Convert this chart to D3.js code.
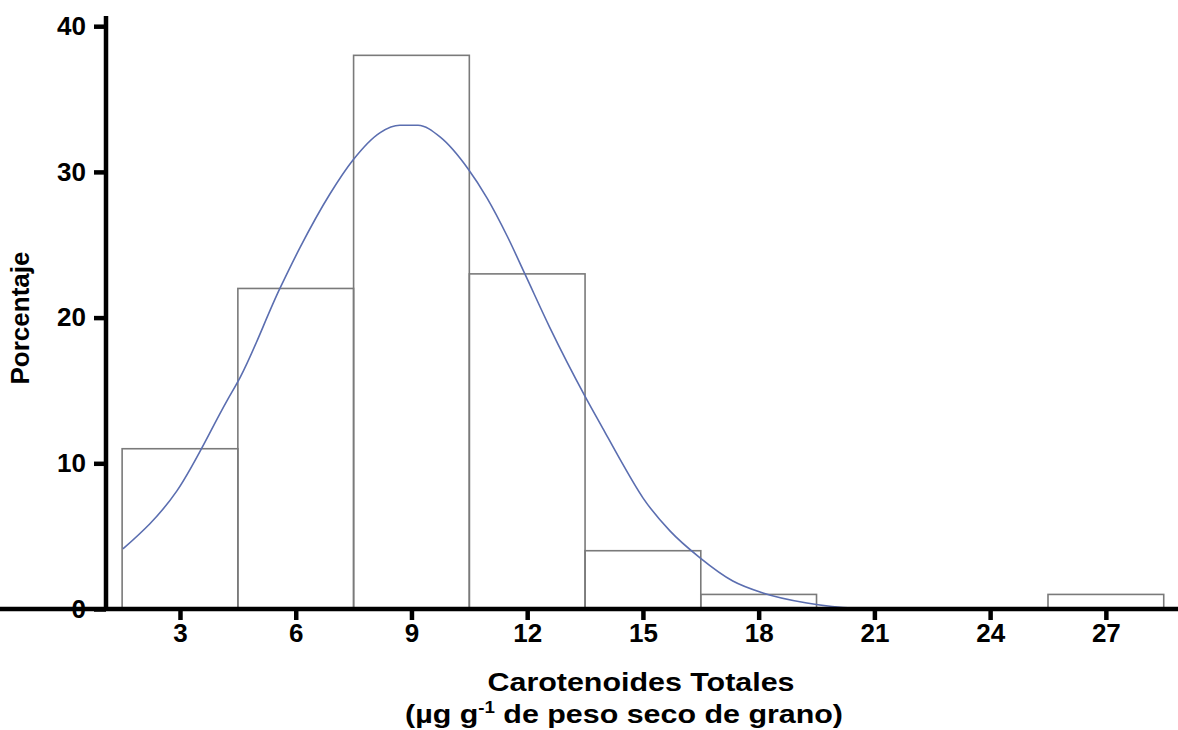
<!DOCTYPE html>
<html><head><meta charset="utf-8">
<script src="https://cdn.jsdelivr.net/npm/d3@7"></script>
<style>
body{margin:0;background:#fff;}
text{font-family:"Liberation Sans",Arial,sans-serif;font-weight:bold;fill:#000;}
</style></head>
<body><svg id="c" width="1178" height="730"></svg>
<script>
// Histogram bins (bin edges) and percentages
const binStarts = [1.5, 4.5, 7.5, 10.5, 13.5, 16.5, 19.5, 22.5, 25.5];
const binWidth = 3;
const percents = [11, 22, 38, 23, 4, 1, 0, 0, 1];
// Fitted curve points (x, percent)
const curveX = [1.52, 2.92, 4.22, 4.56, 5.59, 6.11, 6.89, 7.48, 8.19, 8.70, 9.17, 9.74, 10.47, 10.96, 11.48, 11.94, 12.59, 13.50, 13.96, 14.40, 15.00, 15.70, 16.48, 17.33, 18.11, 19.25, 20.44, 21.47];
const curveY = [4.12, 8.11, 14.3, 15.9, 22.0, 24.8, 28.5, 30.8, 32.7, 33.2, 33.2, 32.4, 30.2, 28.2, 25.6, 23.0, 19.3, 14.6, 12.4, 10.3, 7.63, 5.36, 3.51, 1.92, 1.10, 0.41, 0.07, 0.05];
const xTicks = [3, 6, 9, 12, 15, 18, 21, 24, 27];
const yTicks = [0, 10, 20, 30, 40];

const svg = d3.select("#c");
const x = d3.scaleLinear().domain([1.082, 28.87]).range([106, 1178]);
const y = d3.scaleLinear().domain([0, 40.7]).range([609, 16]);

// bars
svg.append("g").selectAll("rect").data(binStarts.map((s,i)=>({s, v:percents[i]})).filter(d=>d.v>0))
  .join("rect")
  .attr("x", d=>x(d.s)).attr("width", d=>x(d.s+binWidth)-x(d.s))
  .attr("y", d=>y(d.v)).attr("height", d=>y(0)-y(d.v))
  .attr("fill","none").attr("stroke","#7a7a7a").attr("stroke-width",1.6);

// curve
const pts = curveX.map((v,i)=>[v, curveY[i]]);
svg.append("path").datum(pts)
  .attr("d", d3.line().x(d=>x(d[0])).y(d=>y(d[1])).curve(d3.curveMonotoneX))
  .attr("fill","none").attr("stroke","#5b6eb0").attr("stroke-width",1.6);

// axes
const xAxis = svg.append("g").attr("transform",`translate(0,${y(0)})`)
  .call(d3.axisBottom(x).tickValues(xTicks).tickSize(11).tickSizeOuter(0).tickPadding(4));
const yAxis = svg.append("g").attr("transform",`translate(${x.range()[0]},0)`)
  .call(d3.axisLeft(y).tickValues(yTicks).tickSize(12).tickSizeOuter(0).tickPadding(8));
[xAxis, yAxis].forEach(a=>{
  a.attr("font-size", null).attr("font-family", null);
  a.select(".domain").attr("stroke","#000").attr("stroke-width",4.5);
  a.selectAll(".tick line").attr("stroke","#000").attr("stroke-width",4.5);
  a.selectAll(".tick text").style("font-size","26px").style("font-family","'Liberation Sans',Arial,sans-serif").style("font-weight","bold").attr("fill","#000");
});
yAxis.select(".domain").attr("d", `M0,${y(40.7)}V${y(0)+2}`);
xAxis.select(".domain").attr("d", `M-2,0H${x.range()[1]-x.range()[0]+106}`);

// y label
svg.append("text").attr("transform","translate(29,318) rotate(-90)")
  .attr("text-anchor","middle").style("font-size","26px").text("Porcentaje");

// x label
svg.append("text").attr("x",641).attr("y",691).attr("text-anchor","middle")
  .attr("textLength",307).attr("lengthAdjust","spacingAndGlyphs")
  .style("font-size","26px").text("Carotenoides Totales");
const t2 = svg.append("text").attr("x",624).attr("y",723).attr("text-anchor","middle").style("font-size","26px")
  .attr("textLength",438).attr("lengthAdjust","spacingAndGlyphs");
t2.append("tspan").text("(µg g");
t2.append("tspan").attr("dy",-10).style("font-size","16px").text("-1");
t2.append("tspan").attr("dy",10).text(" de peso seco de grano)");
</script></body></html>
